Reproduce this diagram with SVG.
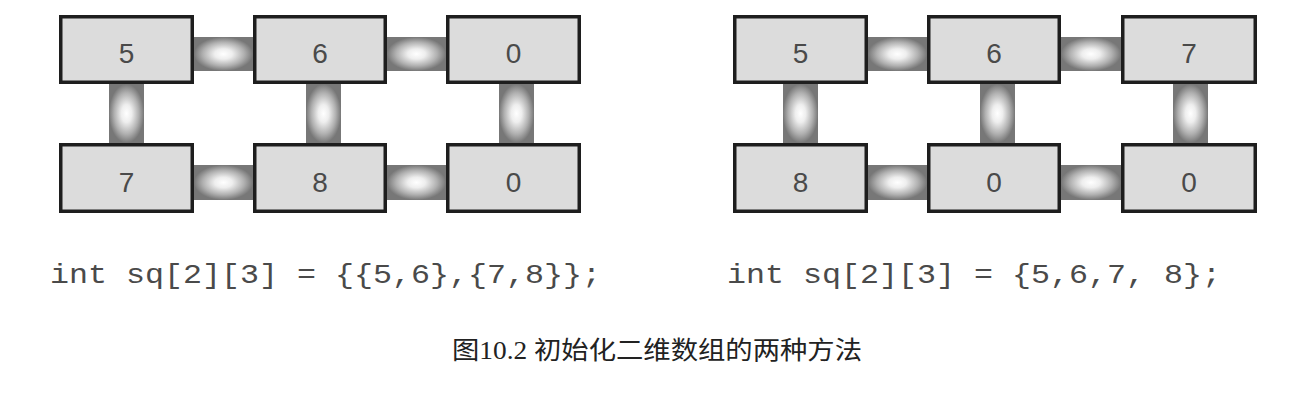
<svg xmlns="http://www.w3.org/2000/svg" width="1304" height="402" viewBox="0 0 1304 402">
<style>
.box{fill:#dcdcdc;stroke:#1e1e1e;stroke-width:3.5}
.num{font-family:"Liberation Sans",Arial,sans-serif;font-size:28px;fill:#4a4a4a;text-anchor:middle}
.code{font-family:"Liberation Mono","Courier New",monospace;font-size:28px;fill:#4a4a4a}
.cap{font-family:"Liberation Serif","Noto Sans CJK SC",serif;font-size:25px;fill:#222}
.h{fill:url(#g)}
.v{fill:url(#g)}
</style>
<defs>
<radialGradient id="g" cx="0.5" cy="0.5" r="0.5">
<stop offset="0" stop-color="#ffffff"/>
<stop offset="0.3" stop-color="#eeeeee"/>
<stop offset="0.7" stop-color="#b0b0b0"/>
<stop offset="1" stop-color="#777777"/>
</radialGradient>
</defs>
<g id="connectors">
<rect class="h" x="194" y="37" width="59" height="34"/>
<rect class="h" x="387" y="37" width="59" height="34"/>
<rect class="h" x="194" y="165" width="59" height="35"/>
<rect class="h" x="387" y="165" width="59" height="35"/>
<rect class="v" x="109" y="84" width="35" height="59"/>
<rect class="v" x="306" y="84" width="35" height="59"/>
<rect class="v" x="499" y="84" width="35" height="59"/>
<rect class="h" x="868" y="37" width="59" height="34"/>
<rect class="h" x="1061" y="37" width="60" height="34"/>
<rect class="h" x="868" y="165" width="59" height="35"/>
<rect class="h" x="1061" y="165" width="60" height="35"/>
<rect class="v" x="783" y="84" width="35" height="59"/>
<rect class="v" x="980" y="84" width="35" height="59"/>
<rect class="v" x="1173" y="84" width="35" height="59"/>
</g>
<g id="a00"><rect class="box" x="60.75" y="16.75" width="131.5" height="65.5"/><text class="num" x="126.5" y="63">5</text></g>
<g id="a01"><rect class="box" x="254.75" y="16.75" width="130.5" height="65.5"/><text class="num" x="320" y="63">6</text></g>
<g id="a02"><rect class="box" x="447.75" y="16.75" width="131.5" height="65.5"/><text class="num" x="513.5" y="63">0</text></g>
<g id="a10"><rect class="box" x="60.75" y="144.75" width="131.5" height="66.5"/><text class="num" x="126.5" y="192">7</text></g>
<g id="a11"><rect class="box" x="254.75" y="144.75" width="130.5" height="66.5"/><text class="num" x="320" y="192">8</text></g>
<g id="a12"><rect class="box" x="447.75" y="144.75" width="131.5" height="66.5"/><text class="num" x="513.5" y="192">0</text></g>
<g id="b00"><rect class="box" x="734.75" y="16.75" width="131.5" height="65.5"/><text class="num" x="800.5" y="63">5</text></g>
<g id="b01"><rect class="box" x="928.75" y="16.75" width="130.5" height="65.5"/><text class="num" x="994" y="63">6</text></g>
<g id="b02"><rect class="box" x="1122.75" y="16.75" width="132.5" height="65.5"/><text class="num" x="1189" y="63">7</text></g>
<g id="b10"><rect class="box" x="734.75" y="144.75" width="131.5" height="66.5"/><text class="num" x="800.5" y="192">8</text></g>
<g id="b11"><rect class="box" x="928.75" y="144.75" width="130.5" height="66.5"/><text class="num" x="994" y="192">0</text></g>
<g id="b12"><rect class="box" x="1122.75" y="144.75" width="132.5" height="66.5"/><text class="num" x="1189" y="192">0</text></g>
<text class="code" x="50" y="283" textLength="551" lengthAdjust="spacingAndGlyphs" xml:space="preserve">int sq[2][3] = {{5,6},{7,8}};</text>
<text class="code" x="727" y="283" textLength="494" lengthAdjust="spacingAndGlyphs" xml:space="preserve">int sq[2][3] = {5,6,7, 8};</text>
<text class="cap" x="452" y="359" textLength="410" lengthAdjust="spacingAndGlyphs">图10.2 初始化二维数组的两种方法</text>
</svg>
